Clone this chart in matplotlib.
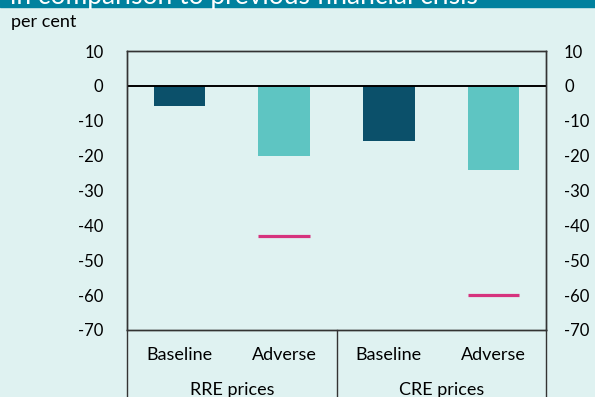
import matplotlib.pyplot as plt
from matplotlib.patches import Rectangle

# Property price falls under the scenarios versus the previous financial crisis
scenarios = ["Baseline", "Adverse", "Baseline", "Adverse"]
groups = ["RRE prices", "CRE prices"]
price_change = [-5.8, -20.0, -15.7, -24.0]
crisis_trough = [None, -43.0, None, -60.0]
yticks = [10, 0, -10, -20, -30, -40, -50, -60, -70]

bg = "#dff2f1"
dark = "#0b506a"
teal = "#5ec5c2"
pink = "#d6337e"
band = "#00819e"

plt.rcParams["font.family"] = ["Lato", "DejaVu Sans"]

fig = plt.figure(figsize=(5.95, 3.97), dpi=100, facecolor=bg)
ax = fig.add_axes([127 / 595, 1 - 330 / 397, 419 / 595, 279 / 397])
ax.set_facecolor(bg)

# title band at the very top
fig.patches.append(Rectangle((0, 1 - 7.3 / 397), 1, 8 / 397,
                             transform=fig.transFigure, color=band, zorder=0))
fig.text(10 / 595, 1 - 4 / 397, "in comparison to previous financial crisis",
         color="white", fontsize=19, va="baseline", ha="left")
fig.text(11 / 595, 1 - 26.5 / 397, "per cent", fontsize=13,
         va="baseline", ha="left")

x = list(range(len(scenarios)))
colors = [dark if s == "Baseline" else teal for s in scenarios]
ax.bar(x, price_change, width=0.49, color=colors, zorder=2)
for xi, v in zip(x, crisis_trough):
    if v is not None:
        ax.hlines(v, xi - 0.245, xi + 0.245, color=pink, lw=2.3, zorder=3)

ax.axhline(0, color="black", lw=1.4, zorder=4)
ax.set_xlim(-0.5, 3.5)
ax.set_ylim(-70, 10)
ax.set_yticks(yticks)
ax.set_yticklabels([str(v) for v in yticks])
ax.tick_params(axis="y", length=0, labelsize=12, pad=17)
ax.set_xticks(x)
ax.set_xticklabels(scenarios, fontsize=13)
ax.tick_params(axis="x", length=0, pad=12)

# same scale repeated on the right
ax_r = ax.twinx()
ax_r.set_ylim(ax.get_ylim())
ax_r.set_yticks(yticks)
ax_r.set_yticklabels([str(v) for v in yticks])
ax_r.tick_params(axis="y", length=0, labelsize=12, pad=13)

for a in (ax, ax_r):
    for s in a.spines.values():
        s.set_color("#333333")
        s.set_linewidth(1.0)

# group separators below the axis
for xv in [-0.5, 1.5, 3.5]:
    ax.plot([xv, xv], [0, -0.4], transform=ax.get_xaxis_transform(),
            color="#333333", lw=1.0, clip_on=False)
for i, g in enumerate(groups):
    ax.text(2 * i + 0.5, -0.215, g, transform=ax.get_xaxis_transform(),
            ha="center", va="center", fontsize=13)

fig.savefig("out.png", dpi=100, facecolor=bg)
